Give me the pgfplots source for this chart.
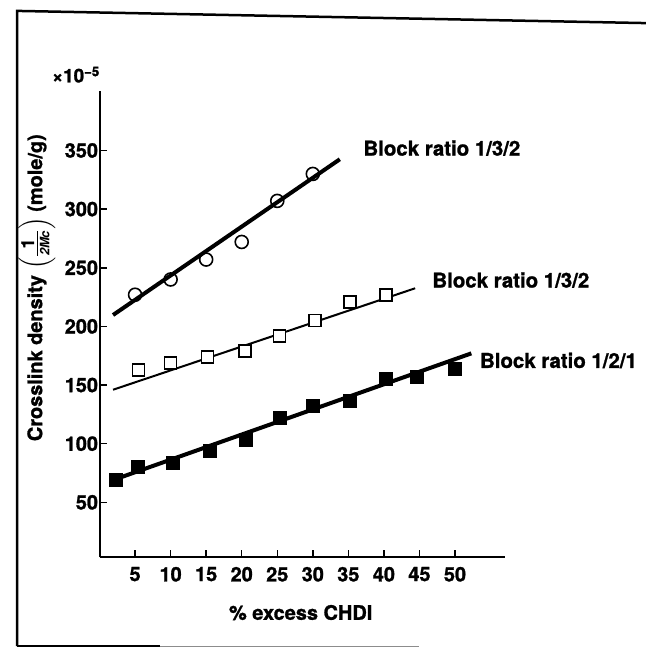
\documentclass[border=0pt]{standalone}
\usepackage{amsmath}
\usepackage{pgfplots}
\pgfplotsset{compat=1.18}
\usepackage{fontspec}
\setmainfont{TeX Gyre Heros}[BoldFeatures={FakeBold=1.2}]
\begin{document}
\begin{tikzpicture}
\begin{axis}[
  x=7.11bp, y=1.173bp,
  xmin=0, xmax=57, ymin=3, ymax=401,
  axis lines=left,
  axis line style={line width=2bp, -},
  xtick={5,10,15,20,25,30,35,40,45,50},
  ytick={50,100,150,200,250,300,350},
  tick style={line width=1.5bp, black},
  major tick length=7bp,
  tick align=inside,
  /pgf/number format/assume math mode=true,
  tick label style={font=\fontsize{20}{20}\selectfont\bfseries},
  xticklabel style={yshift=-6bp},
  yticklabel style={xshift=2bp},
  clip=false,
  xlabel={\% excess CHDI},
  every axis x label/.style={at={(axis cs:28.3,-44)}, anchor=center, font=\fontsize{20}{20}\selectfont\bfseries},
  ylabel={Crosslink density $\left(\frac{\mbox{\fontsize{18}{18}\selectfont\bfseries 1}}{\mbox{\fontsize{13}{13}\selectfont\bfseries\itshape 2Mc}}\right)$ (mole/g)},
  every axis y label/.style={at={(axis cs:-8.8,233)}, rotate=90, anchor=center, font=\fontsize{20}{20}\selectfont\bfseries},
]
% series 1: open circles, Block ratio 1/3/2 (upper)
\addplot[only marks, mark=o, mark size=6.5bp, line width=1.6bp, black, mark options={fill=white}]
  coordinates {(5,227) (10,240) (15,257) (20,272) (25,307) (30,330)};
\addplot[line width=4bp, black] coordinates {(1.9,209.7) (33.8,342.5)};
% series 2: open squares, Block ratio 1/3/2
\addplot[line width=2bp, black] coordinates {(1.9,146) (44.4,232.5)};
\addplot[only marks, mark=square*, mark size=6bp, line width=1.6bp, black, mark options={fill=white}]
  coordinates {(5.5,163) (10,169) (15.2,174) (20.5,179) (25.3,192) (30.3,205) (35.2,221) (40.3,227)};
% series 3: filled squares, Block ratio 1/2/1
\addplot[line width=4bp, black] coordinates {(1.9,69) (52.3,177)};
\addplot[only marks, mark=square*, mark size=6.5bp, black, mark options={fill=black, rounded corners=2.5bp}]
  coordinates {(2.3,69) (5.4,80) (10.3,84) (15.5,94) (20.5,103) (25.3,122.5) (30,132) (35.2,137) (40.2,155) (44.6,157) (49.9,164)};
% labels
\node[anchor=west, font=\fontsize{20.5}{20.5}\selectfont\bfseries, inner sep=0pt] at (axis cs:37.1,352) {Block ratio 1/3/2};
\node[anchor=west, font=\fontsize{20.5}{20.5}\selectfont\bfseries, inner sep=0pt] at (axis cs:46.8,239.5) {Block ratio 1/3/2};
\node[anchor=west, font=\fontsize{20.5}{20.5}\selectfont\bfseries, inner sep=0pt] at (axis cs:53.5,171) {Block ratio 1/2/1};
\node[anchor=base west, font=\fontsize{19}{19}\selectfont\bfseries, inner sep=0pt] at (axis cs:-6.7,408) {×10\textsuperscript{−5}};
% frame
\draw[line width=2.5bp, black] (axis cs:-11.6,-72.5) -- (axis cs:-11.6,469) -- (axis cs:76.9,458.6);
\draw[line width=2bp, black] (axis cs:-11.6,-72.5) -- (axis cs:8.5,-72.5);
\draw[line width=1bp, black!45] (axis cs:8.5,-72.5) -- (axis cs:45,-72.5);
\coordinate (bbBL) at (axis cs:-14,-74.2);
\coordinate (bbTR) at (axis cs:76.86,478.3);
\end{axis}
\pgfresetboundingbox
\useasboundingbox (bbBL) rectangle (bbTR);
\end{tikzpicture}
\end{document}
